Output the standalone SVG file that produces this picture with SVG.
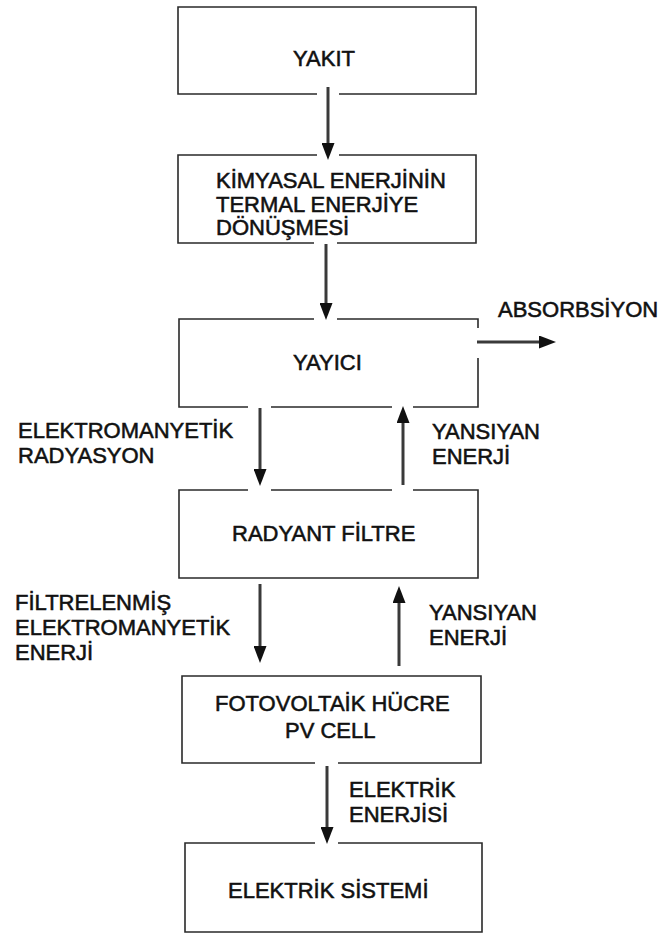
<svg xmlns="http://www.w3.org/2000/svg" width="663" height="934" viewBox="0 0 663 934">
  <style>
    .box { fill: none; stroke: #2a2a2a; stroke-width: 1.6; }
    .wire { fill: none; stroke: #3a3a3a; stroke-width: 3; marker-end: url(#head); }
    text { font-family: "Liberation Sans", Arial, sans-serif; font-size: 22px; fill: #111; stroke: #111; stroke-width: 0.55; }
  </style>
  <defs>
    <marker id="head" markerUnits="userSpaceOnUse" markerWidth="17" markerHeight="13" refX="8" refY="6.5" orient="auto">
      <path d="M0,0 L17,6.5 L0,13 Z" fill="#111"/>
    </marker>
  </defs>
  <rect width="663" height="934" fill="#fff"/>

  <!-- nodes: borders are left open where the arrows touch them -->
  <g id="yakit">
    <path class="box" d="M317,94 H178 V7 H476 V94 H339"/>
    <text x="293" y="66">YAKIT</text>
  </g>
  <g id="donusum">
    <path class="box" d="M339,155 H476 V243 H337 M314,243 H178 V155 H317"/>
    <text x="216" y="188">KİMYASAL ENERJİNİN</text>
    <text x="216" y="212">TERMAL ENERJİYE</text>
    <text x="216" y="235">DÖNÜŞMESİ</text>
  </g>
  <g id="yayici">
    <path class="box" d="M337,319 H478 V328 M478,358 V407 H413 M392,407 H271 M248,407 H179 V319 H314"/>
    <text x="293" y="370">YAYICI</text>
  </g>
  <g id="filtre">
    <path class="box" d="M271,490 H392 M413,490 H478 V578 H179 V490 H248"/>
    <text x="232" y="541">RADYANT FİLTRE</text>
  </g>
  <g id="pv-hucre">
    <path class="box" d="M338,763 H481 V676 H182 V763 H315"/>
    <text x="215" y="711">FOTOVOLTAİK HÜCRE</text>
    <text x="285" y="738">PV CELL</text>
  </g>
  <g id="elektrik-sistemi">
    <path class="box" d="M338,843 H482 V932 H185 V843 H315"/>
    <text x="228" y="898">ELEKTRİK SİSTEMİ</text>
  </g>

  <!-- connectors -->
  <g id="connectors">
    <line class="wire" x1="328" y1="87" x2="328" y2="151"/>
    <line class="wire" x1="326" y1="244" x2="326" y2="311"/>
    <line class="wire" x1="477" y1="342" x2="547" y2="342"/>
    <line class="wire" x1="260" y1="408" x2="260" y2="477"/>
    <line class="wire" x1="403" y1="485" x2="403" y2="415"/>
    <line class="wire" x1="260" y1="584" x2="260" y2="654"/>
    <line class="wire" x1="399" y1="666" x2="399" y2="595"/>
    <line class="wire" x1="327" y1="766" x2="327" y2="835"/>
  </g>

  <!-- connector labels -->
  <g id="labels">
    <text x="498" y="317">ABSORBSİYON</text>
    <text x="18" y="438">ELEKTROMANYETİK</text>
    <text x="18" y="463">RADYASYON</text>
    <text x="432" y="439">YANSIYAN</text>
    <text x="432" y="464">ENERJİ</text>
    <text x="15" y="610">FİLTRELENMİŞ</text>
    <text x="15" y="635">ELEKTROMANYETİK</text>
    <text x="15" y="660">ENERJİ</text>
    <text x="429" y="620">YANSIYAN</text>
    <text x="429" y="645">ENERJİ</text>
    <text x="349" y="797">ELEKTRİK</text>
    <text x="349" y="822">ENERJİSİ</text>
  </g>
</svg>
